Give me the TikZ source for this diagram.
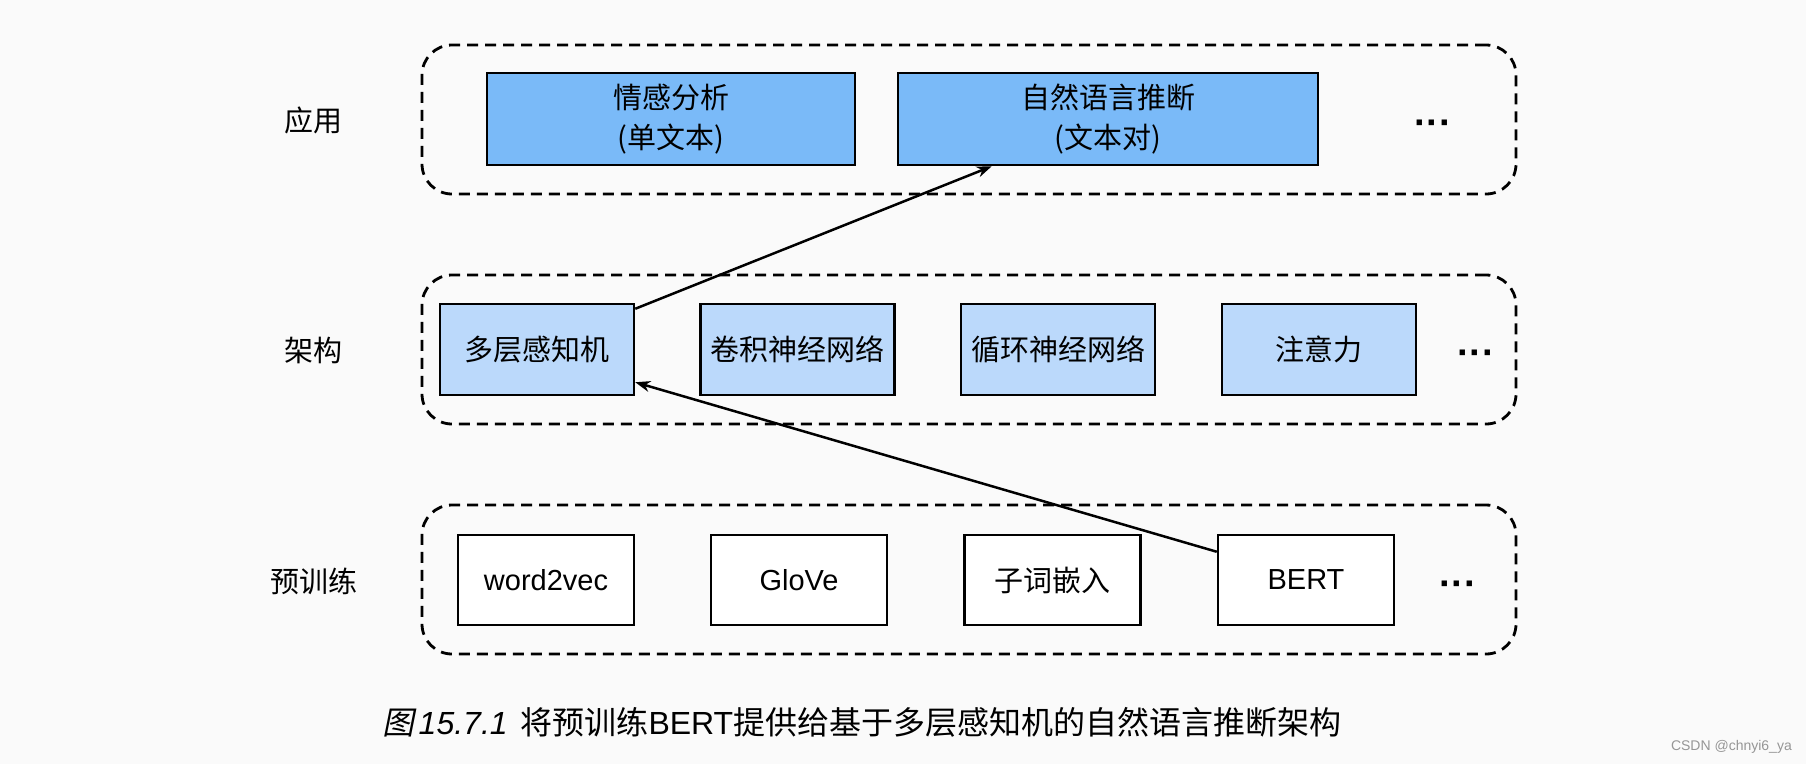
\documentclass[tikz,border=0pt]{standalone}
\usepackage{fontspec}
\setmainfont{Noto Sans CJK SC}
\newfontfamily\latinfont{Liberation Sans}
\newfontfamily\slantfont[FakeSlant=0.2]{Noto Sans CJK SC}
\usepackage{xcolor}
\usepackage{tikz}
\usetikzlibrary{arrows.meta}
\definecolor{appblue}{RGB}{122,186,248}
\definecolor{archblue}{RGB}{187,217,251}
\definecolor{bggray}{RGB}{250,250,250}
\definecolor{markgray}{RGB}{150,150,150}
\tikzset{
    boxnode/.style = {align=center, inner sep=0pt, text centered, font=\fontsize{29}{40}\selectfont},
    app_node/.style = {boxnode, rectangle, draw=black, fill=appblue, line width=2.5pt, minimum height=92pt},
    arch_node/.style = {boxnode, rectangle, draw=black, fill=archblue, line width=2.5pt, minimum width=194pt, minimum height=91pt},
    pre_node/.style = {boxnode, rectangle, draw=black, fill=white, line width=2.5pt, minimum width=176pt, minimum height=90pt},
    group_node/.style = {rectangle, draw=black, line width=2.8pt, dash pattern=on 11pt off 7pt, rounded corners=30pt, minimum width=1094pt, minimum height=149pt, inner sep=0pt},
    row_node/.style = {boxnode},
    etc/.style = {inner sep=0pt, font=\latinfont\bfseries\fontsize{38}{40}\selectfont},
    caption_node/.style = {inner sep=0pt, font=\fontsize{32}{40}\selectfont},
    wmark_node/.style = {inner sep=0pt, text=markgray, font=\latinfont\fontsize{14}{16}\selectfont}
}

\begin{document}
\begin{tikzpicture}
            [x=1pt, y=-1pt, >={Stealth[length=15pt,width=11pt]}]

            \fill[bggray] (0,0) rectangle (1806,764);
            \useasboundingbox (0,0) rectangle (1806,764);

            % dashed groups
            \node [group_node] (appgroup) at (969,119.5) {};
            \node [group_node] (archgroup) at (969,349.5) {};
            \node [group_node] (pregroup) at (969,579.5) {};

            % row labels
            \node [row_node] (applabel) at (313,120) {应用};
            \node [row_node] (archlabel) at (313,350) {架构};
            \node [row_node] (prelabel) at (314,581) {预训练};

            % applications
            \node [app_node, minimum width=368pt] (sa) at (671,119) {情感分析\\(单文本)};
            \node [app_node, minimum width=420pt] (nli) at (1108,119) {自然语言推断\\(文本对)};
            \node [etc] (appdots) at (1433,128) {···};

            % architectures
            \node [arch_node] (mlp) at (537,349.5) {多层感知机};
            \node [arch_node] (cnn) at (797.5,349.5) {卷积神经网络};
            \node [arch_node] (rnn) at (1058,349.5) {循环神经网络};
            \node [arch_node] (attn) at (1319,349.5) {注意力};
            \node [etc] (archdots) at (1476,358) {···};

            % pretraining
            \node [pre_node] (w2v) at (546,580) {\latinfont word2vec};
            \node [pre_node] (glove) at (799,580) {\latinfont GloVe};
            \node [pre_node] (subword) at (1052.5,580) {子词嵌入};
            \node [pre_node] (bert) at (1306,580) {\latinfont BERT};
            \node [etc] (predots) at (1458,589) {···};

            \draw [->, line width=2.5pt] ([yshift=-6pt]mlp.north east) -- ([xshift=95pt]nli.south west);
            \draw [->, line width=2.5pt] ([yshift=-18pt]bert.north west) -- ([yshift=14pt]mlp.south east);

            \node [caption_node] (caption) at (862,722) {{\slantfont 图}\hspace{4pt}{\latinfont\itshape 15.7.1}\hspace{0.4em}将预训练{\latinfont BERT}提供给基于多层感知机的自然语言推断架构};
            \node [wmark_node, anchor=east] (wmark) at (1792,747) {CSDN @chnyi6\_ya};
        \end{tikzpicture}
\end{document}
